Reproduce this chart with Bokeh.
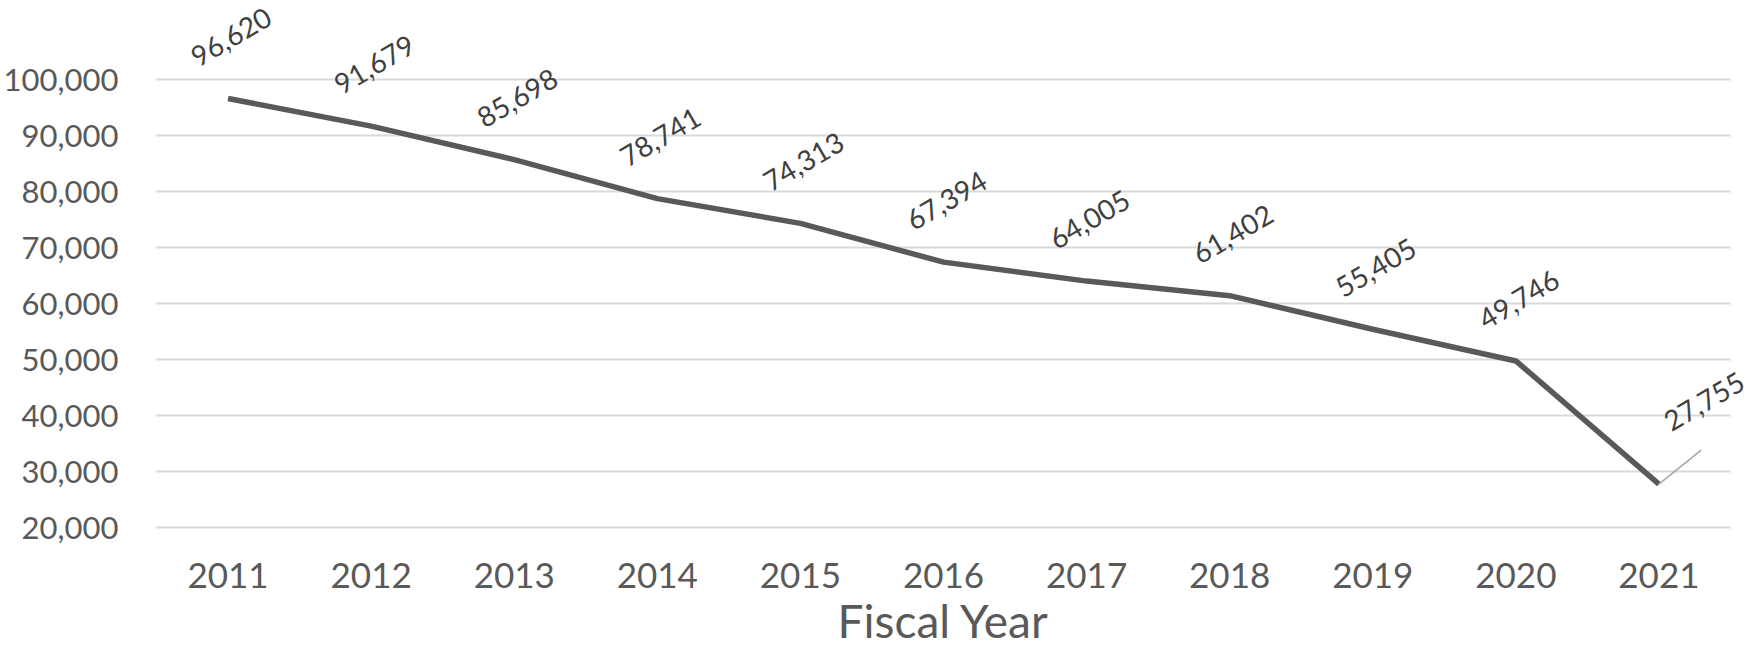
from bokeh.plotting import figure
from bokeh.models import ColumnDataSource, FixedTicker, NumeralTickFormatter, Range1d, LabelSet
from bokeh.core.properties import value
from bokeh.embed import file_html
from bokeh.resources import INLINE

years = ["2011", "2012", "2013", "2014", "2015", "2016", "2017", "2018", "2019", "2020", "2021"]
values = [96620, 91679, 85698, 78741, 74313, 67394, 64005, 61402, 55405, 49746, 27755]
y_ticks = [20000, 30000, 40000, 50000, 60000, 70000, 80000, 90000, 100000]
x_title = "Fiscal Year"

FONT = "Lato"
labels = [f"{v:,}" for v in values]
xs = list(range(len(years)))

W, H = 1750, 650
BL, BR, BT, BB = 135, 0, 8, 119
PAD = 0.14

p = figure(width=W, height=H, x_range=Range1d(xs[0] - 0.5 - PAD, xs[-1] + 0.5 + PAD),
           y_range=Range1d(19465, 112690), output_backend="svg", toolbar_location=None,
           min_border_left=BL, min_border_right=BR, min_border_top=BT, min_border_bottom=BB)
p.outline_line_color = None
p.background_fill_color = "white"
p.xgrid.grid_line_color = None
p.ygrid.grid_line_color = None

p.yaxis.ticker = FixedTicker(ticks=y_ticks)
p.yaxis.formatter = NumeralTickFormatter(format="0,0")
p.xaxis.ticker = FixedTicker(ticks=xs)
p.xaxis.major_label_overrides = {i: y for i, y in zip(xs, years)}

for ax in (p.xaxis, p.yaxis):
    ax.axis_line_color = None
    ax.major_tick_line_color = None
    ax.minor_tick_line_color = None
    ax.major_tick_out = 0
    ax.major_tick_in = 0
    ax.minor_tick_out = 0
    ax.minor_tick_in = 0
    ax.major_label_text_font = FONT
    ax.major_label_text_color = "#595959"

p.yaxis.major_label_text_font_size = "31px"
p.yaxis.major_label_standoff = 18
p.xaxis.major_label_text_font_size = "35px"
p.xaxis.major_label_standoff = 32
p.xaxis.axis_label = x_title
p.xaxis.axis_label_text_font = FONT
p.xaxis.axis_label_text_font_size = "46px"
p.xaxis.axis_label_text_font_style = "normal"
p.xaxis.axis_label_text_color = "#595959"
p.xaxis.axis_label_standoff = 2

# horizontal gridlines spanning the category area
grid = ColumnDataSource(dict(y=y_ticks, x0=[xs[0] - 0.5] * len(y_ticks), x1=[xs[-1] + 0.5] * len(y_ticks)))
p.segment(x0="x0", x1="x1", y0="y", y1="y", source=grid, line_color="#d9d9d9", line_width=2)

src = ColumnDataSource(dict(x=xs, val=values, label=labels))
p.line("x", "val", source=src, line_color="#595959", line_width=5.5, line_join="round")

main = ColumnDataSource(dict(x=xs[:-1], val=values[:-1], label=labels[:-1]))
p.add_layout(LabelSet(x="x", y="val", text="label", source=main, angle=0.53,
                      text_align="center", text_baseline="middle", y_offset=62, x_offset=3,
                      text_font_size="28px", text_color="#404040", text_font=value(FONT)))

last = ColumnDataSource(dict(x=[xs[-1]], x1=[xs[-1] + 0.295], val=[values[-1]],
                             label=[labels[-1]], val_end=[values[-1] + 6060]))
p.segment(x0="x", y0="val", x1="x1", y1="val_end",
          source=last, line_color="#a6a6a6", line_width=1.5)
p.add_layout(LabelSet(x="x", y="val", text="label", source=last, angle=0.53,
                      text_align="center", text_baseline="middle", y_offset=83, x_offset=45,
                      text_font_size="28px", text_color="#404040", text_font=value(FONT)))

open("out.html", "w").write(file_html(p, INLINE))
